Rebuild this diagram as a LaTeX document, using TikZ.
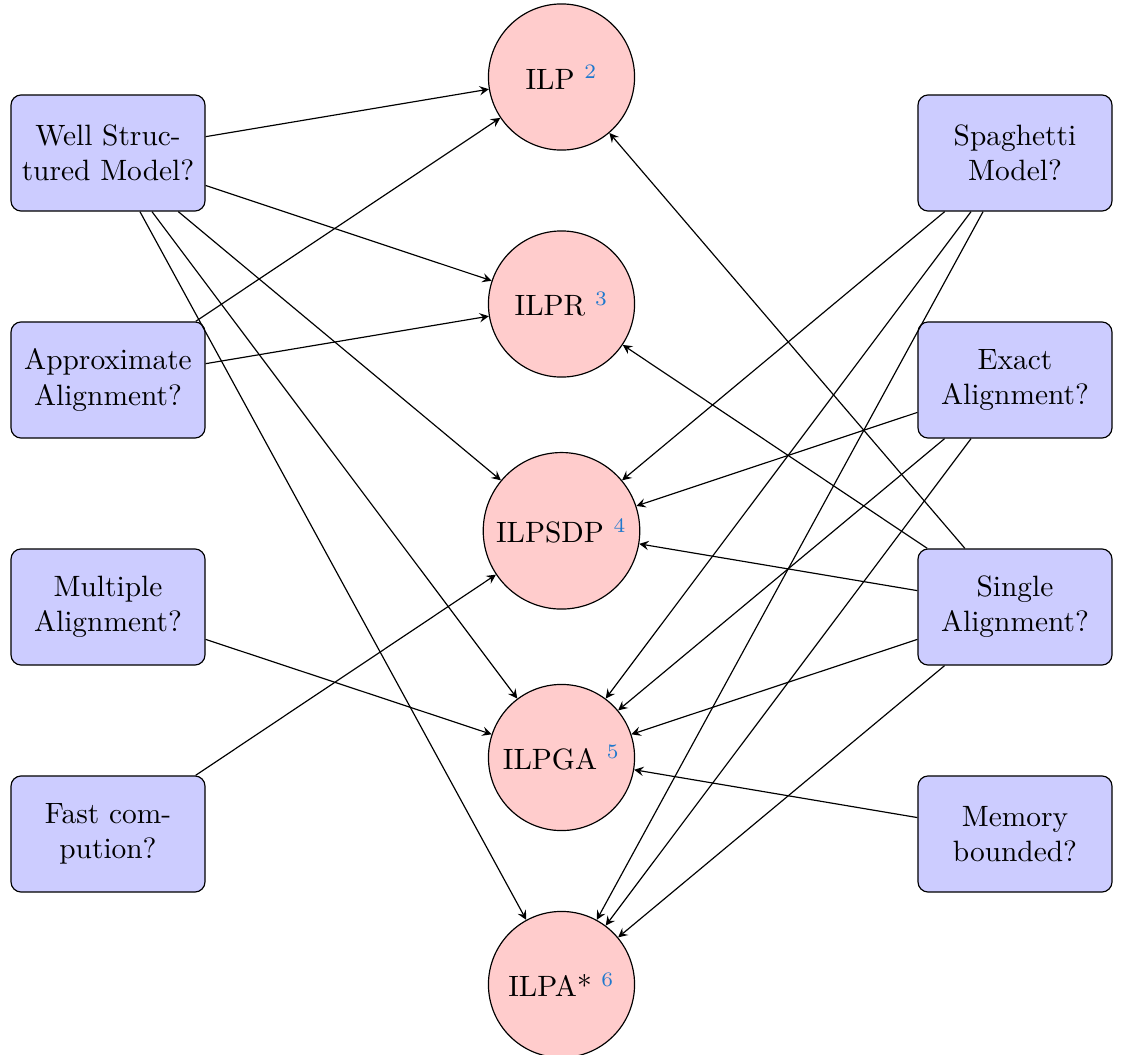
\documentclass[tikz,border=0pt]{standalone}
\usepackage{xcolor}
\definecolor{citeblue}{RGB}{30,120,205}
\newcommand{\refmark}[1]{\textsuperscript{\textcolor{citeblue}{#1}}}
\begin{document}
\begin{tikzpicture}[x=0.3401pt,y=-0.3401pt,>=stealth,
  method/.style={draw,circle,fill=red!20,minimum size=49.7pt},
  question/.style={draw,rounded corners=3.5pt,fill=blue!20,align=center,
    minimum width=66pt,minimum height=39.5pt},
  link/.style={->}]
\useasboundingbox (0,0) rectangle (1122,1054);

% algorithms (centre column)
\node[method] (ilp)    at (561.5,77)    {ILP \refmark{2}};
\node[method] (ilpr)   at (561.5,304)   {ILPR \refmark{3}};
\node[method] (ilpsdp) at (561.5,530.8) {ILPSDP \refmark{4}};
\node[method] (ilpga)  at (561.5,757.5) {ILPGA \refmark{5}};
\node[method] (ilpa)   at (561.5,984.5) {ILPA* \refmark{6}};

% questions (left column)
\node[question] (ws) at (108,153) {Well Struc-\\tured Model?};
\node[question] (aa) at (108,380) {Approximate\\Alignment?};
\node[question] (ma) at (108,607) {Multiple\\Alignment?};
\node[question] (fc) at (108,834) {Fast com-\\pution?};

% questions (right column)
\node[question] (sm) at (1015,153) {Spaghetti\\Model?};
\node[question] (ea) at (1015,380) {Exact\\Alignment?};
\node[question] (sa) at (1015,607) {Single\\Alignment?};
\node[question] (mb) at (1015,834) {Memory\\bounded?};

% left connections
\draw[link] (ws) -- (ilp);
\draw[link] (ws) -- (ilpr);
\draw[link] (ws) -- (ilpsdp);
\draw[link] (ws) -- (ilpga);
\draw[link] (ws) -- (ilpa);
\draw[link] (aa) -- (ilp);
\draw[link] (aa) -- (ilpr);
\draw[link] (ma) -- (ilpga);
\draw[link] (fc) -- (ilpsdp);

% right connections
\draw[link] (sm) -- (ilpsdp);
\draw[link] (sm) -- (ilpga);
\draw[link] (sm) -- (ilpa);
\draw[link] (ea) -- (ilpsdp);
\draw[link] (ea) -- (ilpga);
\draw[link] (ea) -- (ilpa);
\draw[link] (sa) -- (ilp);
\draw[link] (sa) -- (ilpr);
\draw[link] (sa) -- (ilpsdp);
\draw[link] (sa) -- (ilpga);
\draw[link] (sa) -- (ilpa);
\draw[link] (mb) -- (ilpga);
\end{tikzpicture}
\end{document}
